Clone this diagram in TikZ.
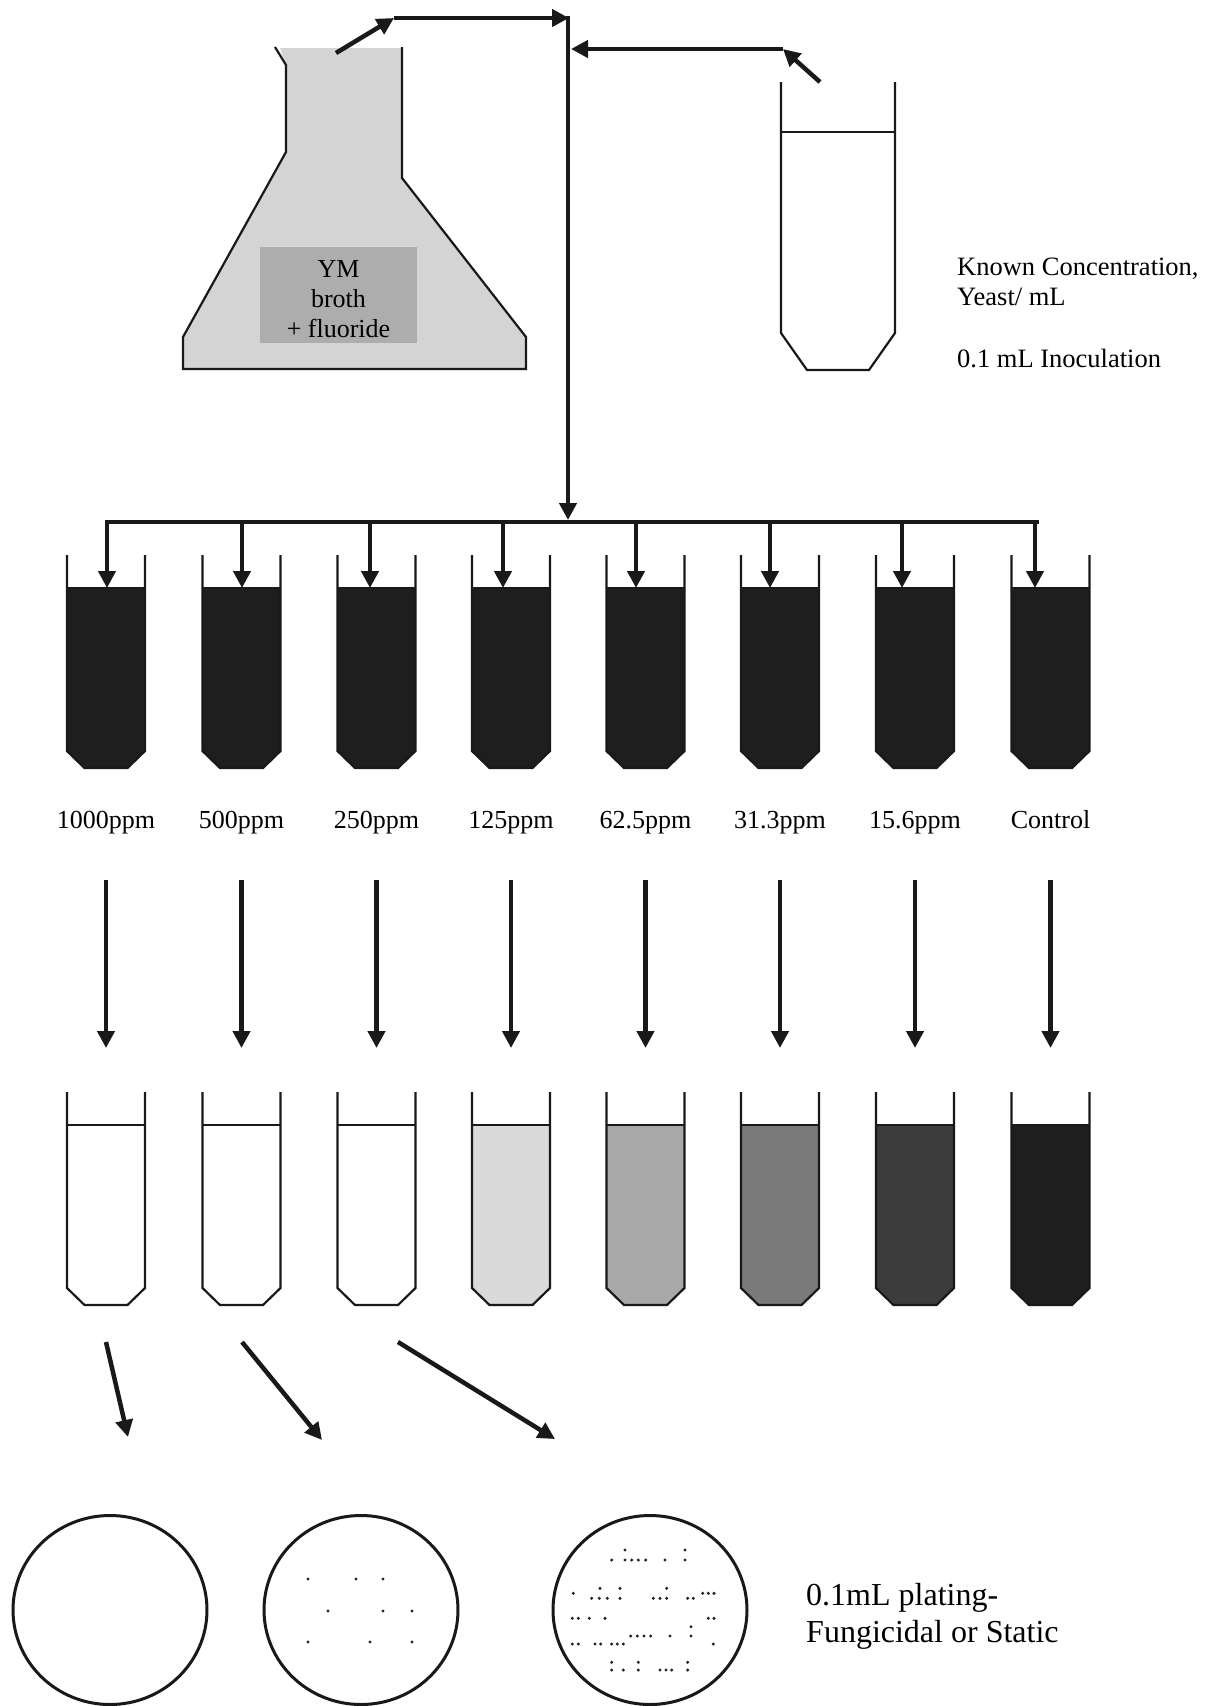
\documentclass[tikz,border=0pt]{standalone}
\usepackage{fontspec}
\setmainfont{Liberation Serif}
\usetikzlibrary{arrows.meta}

\definecolor{flaskgray}{HTML}{D4D4D4}
\definecolor{boxgray}{HTML}{ADADAD}
\definecolor{growth}{HTML}{1E1E1E}
\definecolor{turbA}{HTML}{DADADA}
\definecolor{turbB}{HTML}{A8A8A8}
\definecolor{turbC}{HTML}{7A7A7A}
\definecolor{turbD}{HTML}{3C3C3C}

% test tube: #1 centre x, #2 top y, #3 liquid colour
\newcommand{\testtube}[3]{%
  \fill[#3] (#1-39,#2+33) -- (#1+39,#2+33) -- (#1+39,#2+196) -- (#1+21.5,#2+213)
    -- (#1-21.5,#2+213) -- (#1-39,#2+196) -- cycle;
  \draw[wall] (#1-39,#2) -- (#1-39,#2+196) -- (#1-21.5,#2+213) -- (#1+21.5,#2+213)
    -- (#1+39,#2+196) -- (#1+39,#2);
  \draw[wall] (#1-39,#2+33) -- (#1+39,#2+33);}

\begin{document}
\begin{tikzpicture}[x=1pt,y=-1pt,
  flow/.style={line width=4.5pt, draw=black!90, -{Triangle[length=17pt,width=17pt]}},
  bar/.style={line width=4.5pt, draw=black!90},
  wall/.style={line width=2.2pt, draw=black!90, line join=miter},
  lbl/.style={font=\fontsize{26}{30}\selectfont, inner sep=0pt, anchor=base},
  note/.style={font=\fontsize{26.5}{31}\selectfont, inner sep=0pt, anchor=base west},
  big/.style={font=\fontsize{32}{37}\selectfont, inner sep=0pt, anchor=base west},
  plate/.style={line width=3pt, draw=black!90},
  colony/.style={fill=black!85}]

\useasboundingbox (0,0) rectangle (1219,1706);

% ---- Erlenmeyer flask with YM broth
\fill[flaskgray] (280,48) -- (286,65) -- (286,152) -- (183,337) -- (183,369)
  -- (526,369) -- (526,337) -- (402,178) -- (402,48) -- cycle;
\draw[wall] (275,47) -- (286,65) -- (286,152) -- (183,337) -- (183,369)
  -- (526,369) -- (526,337) -- (402,178) -- (402,47);
\node[fill=boxgray, minimum width=157pt, minimum height=96pt, inner sep=0pt] (broth) at (338.5,295) {};
\node[font=\fontsize{26}{30}\selectfont, align=center, inner sep=0pt] (brothtext)
  at ([yshift=-4pt]broth.center) {YM\\broth\\+ fluoride};

% ---- inoculum tube
\fill[white] (781,132) rectangle (895,333);
\draw[wall] (781,82) -- (781,333) -- (807,370) -- (869,370) -- (895,333) -- (895,82);
\draw[wall] (781,132) -- (895,132);
\node[note] (conc) at (957,275) {Known Concentration,};
\node[note] (unit) at (957,305) {Yeast/ mL};
\node[note] (inoc) at (957,367) {0.1 mL Inoculation};

% ---- transfer arrows to the distribution line
\coordinate (flaskout) at (336,53);
\coordinate (knee1) at (394,18);
\coordinate (join1) at (569,18);
\coordinate (tubeout) at (820,82);
\coordinate (knee2) at (783,49);
\coordinate (join2) at (571,49);
\coordinate (vtop) at (568,15.8);
\coordinate (hub) at (568,520);
\draw[flow] (flaskout) -- (knee1);
\draw[flow] (knee1) -- (join1);
\draw[flow] (tubeout) -- (knee2);
\draw[flow] (knee2) -- (join2);
\draw[flow] (vtop) -- (hub);

\coordinate (barL) at (104.75,522);
\coordinate (barR) at (1039.25,522);
\draw[bar] (barL) -- (barR);

% ---- inoculated dilution series
\foreach \c/\a/\name [count=\i] in {106/107/1000ppm, 241.5/242/500ppm, 376.5/370/250ppm,
    511/503/125ppm, 645.5/636/62.5ppm, 780/770/31.3ppm, 915/902/15.6ppm, 1050.5/1035/Control}{
  \coordinate (drop\i) at (\a,522);
  \coordinate (fill\i) at (\a,588);
  \draw[flow] (drop\i) -- (fill\i);
  \testtube{\c}{555}{growth}
  \node[lbl] (conc\i) at (\c,828) {\name};
  \coordinate (mtop\i) at (\c,880);
  \coordinate (mbot\i) at (\c,1048);
  \draw[flow] (mtop\i) -- (mbot\i);
}

% ---- incubated tubes
\foreach \c/\col in {106/white, 241.5/white, 376.5/white, 511/turbA,
    645.5/turbB, 780/turbC, 915/turbD, 1050.5/growth}{
  \testtube{\c}{1092}{\col}
}

% ---- plating arrows
\coordinate (p1a) at (106,1342);  \coordinate (p1b) at (128,1437);
\coordinate (p2a) at (242,1342);  \coordinate (p2b) at (322,1440);
\coordinate (p3a) at (398,1342);  \coordinate (p3b) at (555,1439);
\draw[flow] (p1a) -- (p1b);
\draw[flow] (p2a) -- (p2b);
\draw[flow] (p3a) -- (p3b);

% ---- agar plates
\draw[plate] (110,1610) ellipse [x radius=97, y radius=94.5];
\draw[plate] (361,1610) ellipse [x radius=97, y radius=94.5];
\draw[plate] (650,1610) ellipse [x radius=97, y radius=94.5];

% a few colonies
\foreach \p in {(308,1579),(356,1579),(383,1579),(328,1611),(383,1611),(412,1611),
    (308,1642),(370,1642),(412,1642)}{
  \fill[colony] \p circle (1.7);
}

% many colonies
\foreach \p in {(625,1550),(685,1550),
    (611.7,1560),(625,1560),(631.7,1560),(638.3,1560),(645.7,1560),(665,1560),(685,1560),
    (600,1588.3),(620,1588.3),(666.7,1588.3),
    (573.3,1593.3),(702.7,1593.3),(708.3,1593.3),(714,1593.3),
    (591.7,1598.3),(599.3,1598.3),(607.3,1598.3),(620,1598.3),(653.3,1598.3),(660,1598.3),
    (666.7,1598.3),(687.7,1598.3),(693.3,1598.3),
    (572.3,1618.3),(578.3,1618.3),(589.3,1618.3),(605,1618.3),(708.3,1618.3),(714,1618.3),
    (691,1626.7),
    (630.7,1636),(637.3,1636),(644,1636),(650.7,1636),(670,1636),(691,1636),
    (572.3,1644),(578.3,1644),(595,1644),(600.7,1644),(611.7,1644),(617.3,1644),(623.3,1644),
    (713.3,1644),
    (611.7,1662.3),(638.3,1662.3),(687.7,1662.3),
    (611.7,1670),(623.3,1670),(638.3,1670),(660,1670),(666,1670),(671.7,1670),(687.7,1670)}{
  \fill[colony] \p circle (1.7);
}

\node[big] (plating) at (806,1605) {0.1mL plating-};
\node[big] (result) at (806,1642) {Fungicidal or Static};

\end{tikzpicture}
\end{document}
